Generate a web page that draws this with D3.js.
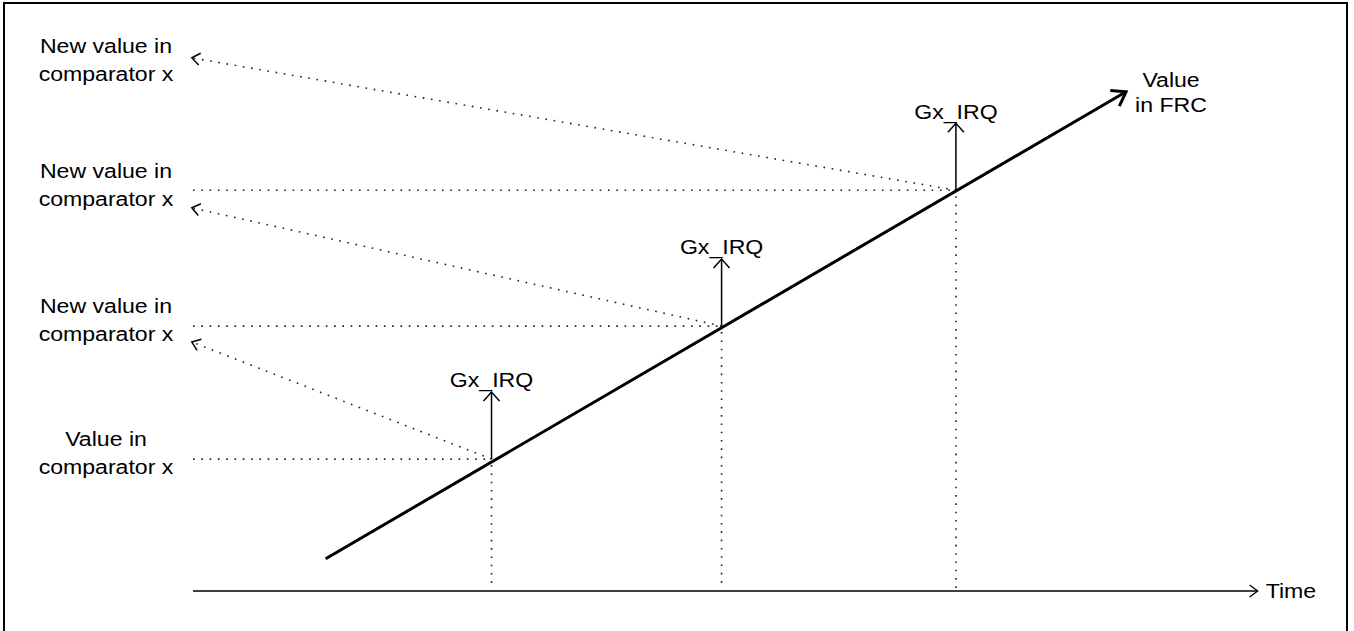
<!DOCTYPE html>
<html lang="en">
<head>
  <meta charset="UTF-8">
  <title>FRC comparator timing</title>
  <script src="https://cdnjs.cloudflare.com/ajax/libs/d3/7.8.5/d3.min.js"></script>
  <style>
    body { margin: 0; background: #fff; }
    svg text { font-family: "Liberation Sans", Arial, sans-serif; font-size: 21px; fill: #000; }
    .dot { stroke: #222; stroke-width: 1.6px; stroke-dasharray: 1.6 6.7; fill: none; }
    .solid { stroke: #000; fill: none; }
  </style>
</head>
<body>
  <svg width="1354" height="631"></svg>
  <script>
    // event times (where the FRC hits each comparator value)
    var eventTimes = [27.9, 49.4, 71.3]
    var compareValues = [23.3, 46.8, 70.8]
    // where the "new value" dotted arrows point to on the left
    var newValueTips = [44.0, 67.7, 94.2]
    var labelValues = [23.3, 46.8, 70.8, 92.8]
    var labelTexts = [
      ["Value in", "comparator x"],
      ["New value in", "comparator x"],
      ["New value in", "comparator x"],
      ["New value in", "comparator x"]
    ]
    var frcLine = [{ t: 12.4, v: 5.7 }, { t: 87.2, v: 88.2 }]
    var timeAxisEnd = 99.5
    var tipTime = -0.3

    var svg = d3.select("svg")
    var x = d3.scaleLinear().domain([0, 100]).range([193, 1263])
    var y = d3.scaleLinear().domain([0, 100]).range([591, 25])
    var sx = " scale(1.1,1)"

    var defs = svg.append("defs")
    function marker(id, path, w) {
      defs.append("marker")
        .attr("id", id)
        .attr("markerUnits", "userSpaceOnUse")
        .attr("viewBox", "-20 -20 40 40")
        .attr("markerWidth", 40).attr("markerHeight", 40)
        .attr("refX", 0).attr("refY", 0)
        .attr("orient", "auto")
        .append("path")
        .attr("d", path)
        .attr("fill", "none").attr("stroke", "#000")
        .attr("stroke-width", w)
    }
    marker("headBig", "M-13,-9L0,0L-13,9", 3)
    marker("headSmall", "M-9,-8L0,0L-9,8", 1.5)
    marker("headTime", "M-8,-6L0,0L-8,6", 1.3)
    marker("headDot", "M-8,-6L0,0L-8,6", 1.5)

    // frame
    svg.append("rect")
      .attr("x", 4).attr("y", 3).attr("width", 1343).attr("height", 632)
      .attr("fill", "none").attr("stroke", "#000").attr("stroke-width", 2)

    // time axis
    svg.append("line").attr("class", "solid")
      .attr("x1", x(0)).attr("x2", x(timeAxisEnd))
      .attr("y1", y(0)).attr("y2", y(0))
      .attr("stroke-width", 1.5)
      .attr("marker-end", "url(#headTime)")
    svg.append("text")
      .attr("transform", "translate(" + (x(timeAxisEnd) + 8) + "," + y(0) + ")" + sx)
      .attr("dy", "0.35em")
      .text("Time")

    // horizontal dotted lines from the left to each hit point
    svg.selectAll(".hdot").data(eventTimes).join("line")
      .attr("class", "dot")
      .attr("x1", x(0)).attr("x2", d => x(d))
      .attr("y1", (d, i) => y(compareValues[i])).attr("y2", (d, i) => y(compareValues[i]))

    // vertical dotted lines down to the time axis
    svg.selectAll(".vdot").data(eventTimes).join("line")
      .attr("class", "dot")
      .attr("x1", d => x(d)).attr("x2", d => x(d))
      .attr("y1", (d, i) => y(compareValues[i]) + 6).attr("y2", y(0) - 2)

    // dotted arrows to the new comparator value
    svg.selectAll(".ddot").data(eventTimes).join("line")
      .attr("class", "dot")
      .attr("x1", d => x(d)).attr("y1", (d, i) => y(compareValues[i]))
      .attr("x2", x(tipTime) + 2).attr("y2", (d, i) => y(newValueTips[i]))
      .attr("marker-end", "url(#headDot)")

    // FRC line
    svg.append("path").attr("class", "solid")
      .attr("d", d3.line().x(d => x(d.t)).y(d => y(d.v))(frcLine))
      .attr("stroke-width", 3)
      .attr("marker-end", "url(#headBig)")

    var frcEnd = frcLine[1]
    svg.selectAll(".frcLabel").data(["Value", "in FRC"]).join("text")
      .attr("transform", (d, i) => "translate(" + (x(frcEnd.t) + 45) + "," + (y(frcEnd.v) - 12 + i * 25) + ")" + sx)
      .attr("text-anchor", "middle")
      .attr("dy", "0.35em")
      .text(d => d)

    // Gx_IRQ arrows
    svg.selectAll(".irq").data(eventTimes).join("line")
      .attr("class", "solid")
      .attr("stroke-width", 1.5)
      .attr("x1", d => x(d)).attr("x2", d => x(d))
      .attr("y1", (d, i) => y(compareValues[i])).attr("y2", (d, i) => y(compareValues[i]) - 67)
      .attr("marker-end", "url(#headSmall)")
    svg.selectAll(".irqLabel").data(eventTimes).join("text")
      .attr("transform", (d, i) => "translate(" + x(d) + "," + (y(compareValues[i]) - 79) + ")" + sx)
      .attr("text-anchor", "middle")
      .attr("dy", "0.35em")
      .text("Gx_IRQ")

    // left labels
    labelTexts.forEach(function (lines, i) {
      svg.selectAll(".lab" + i).data(lines).join("text")
        .attr("transform", (d, j) => "translate(106," + (y(labelValues[i]) - 20 + j * 28) + ")" + sx)
        .attr("text-anchor", "middle")
        .attr("dy", "0.35em")
        .text(d => d)
    })
  </script>
</body>
</html>
